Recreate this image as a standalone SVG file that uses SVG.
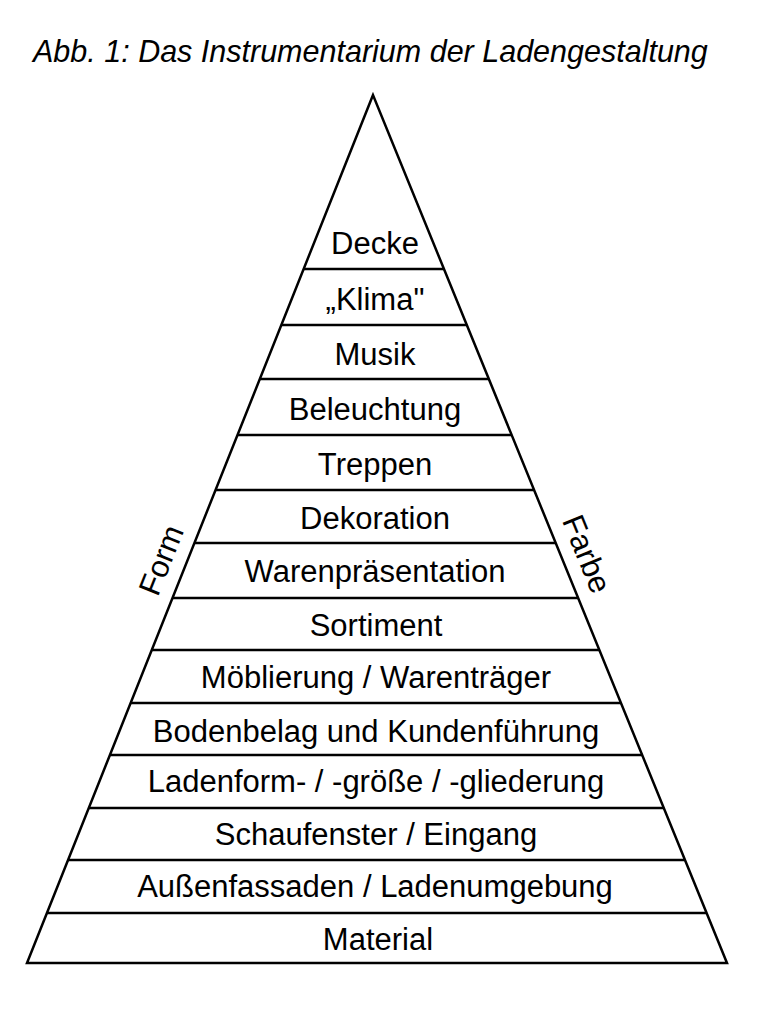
<svg xmlns="http://www.w3.org/2000/svg" width="760" height="1014" viewBox="0 0 760 1014">
<style>
.t{font-family:"Liberation Sans",Arial,sans-serif;font-size:31px;fill:#000;text-anchor:middle}
.ln{stroke:#000;stroke-width:2.5;fill:none}
.title{font-family:"Liberation Sans",Arial,sans-serif;font-size:30.5px;font-style:italic;fill:#000}
</style>
<rect width="760" height="1014" fill="#fff"/>
<text class="title" x="33" y="62">Abb. 1: Das Instrumentarium der Ladengestaltung</text>
<g id="connectors">
<polygon class="ln" points="373,95 27,963 727,963" stroke-linejoin="miter"/>
<line class="ln" x1="303.6" y1="269" x2="444" y2="269"/>
<line class="ln" x1="281.3" y1="325" x2="466.8" y2="325"/>
<line class="ln" x1="259.8" y1="379" x2="488.8" y2="379"/>
<line class="ln" x1="237.5" y1="435" x2="511.7" y2="435"/>
<line class="ln" x1="215.5" y1="490" x2="534.1" y2="490"/>
<line class="ln" x1="194.4" y1="543" x2="555.7" y2="543"/>
<line class="ln" x1="172.5" y1="598" x2="578.1" y2="598"/>
<line class="ln" x1="151.7" y1="650" x2="599.4" y2="650"/>
<line class="ln" x1="130.6" y1="703" x2="621" y2="703"/>
<line class="ln" x1="109.9" y1="755" x2="642.2" y2="755"/>
<line class="ln" x1="88.8" y1="808" x2="663.8" y2="808"/>
<line class="ln" x1="68.1" y1="860" x2="685" y2="860"/>
<line class="ln" x1="47" y1="913" x2="706.6" y2="913"/>
</g>
<g id="n1"><text class="t" x="375" y="254">Decke</text></g>
<g id="n2"><text class="t" x="375" y="310">„Klima"</text></g>
<g id="n3"><text class="t" x="375" y="365">Musik</text></g>
<g id="n4"><text class="t" x="375" y="420">Beleuchtung</text></g>
<g id="n5"><text class="t" x="375" y="475">Treppen</text></g>
<g id="n6"><text class="t" x="375" y="529">Dekoration</text></g>
<g id="n7"><text class="t" x="375" y="582">Warenpräsentation</text></g>
<g id="n8"><text class="t" x="376" y="636">Sortiment</text></g>
<g id="n9"><text class="t" x="376" y="688">Möblierung / Warenträger</text></g>
<g id="n10"><text class="t" x="376" y="742">Bodenbelag und Kundenführung</text></g>
<g id="n11"><text class="t" x="376" y="792">Ladenform- / -größe / -gliederung</text></g>
<g id="n12"><text class="t" x="376" y="845">Schaufenster / Eingang</text></g>
<g id="n13"><text class="t" x="375" y="897">Außenfassaden / Ladenumgebung</text></g>
<g id="n14"><text class="t" x="378" y="950">Material</text></g>
<g id="form"><text class="t" transform="translate(171,564) rotate(-68.3)">Form</text></g>
<g id="farbe"><text class="t" transform="translate(577,558) rotate(67.8)">Farbe</text></g>
</svg>
